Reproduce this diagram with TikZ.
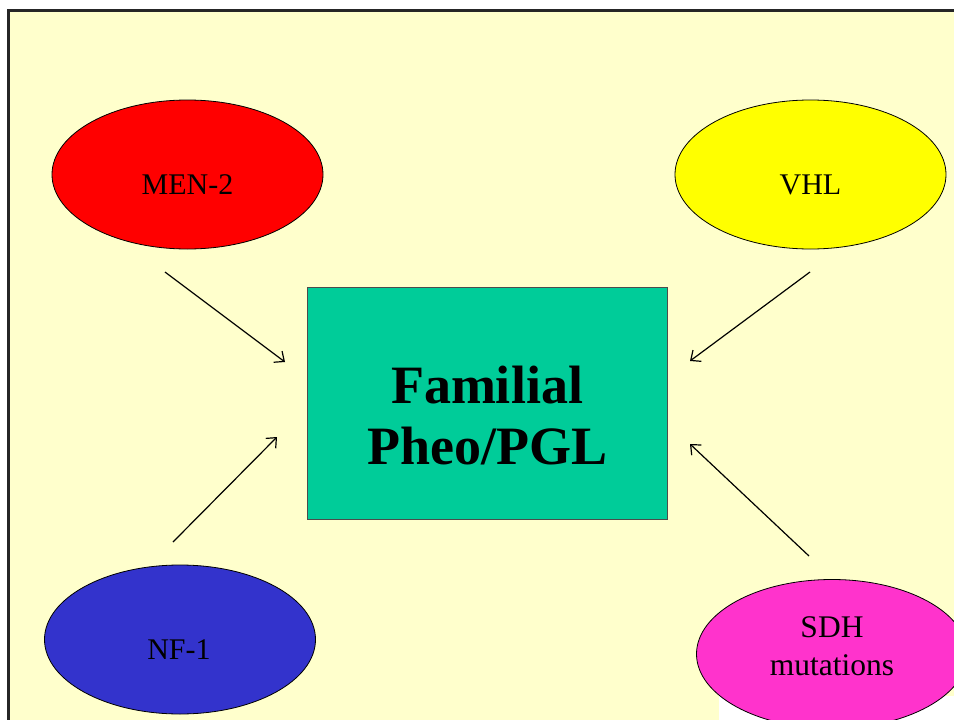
\documentclass[tikz,border=0pt]{standalone}
\usepackage{fontspec}
\setmainfont{Liberation Serif}
\usetikzlibrary{shapes.geometric,arrows.meta}
\definecolor{slidebg}{HTML}{FFFFCC}
\definecolor{menred}{HTML}{FF0000}
\definecolor{vhlyellow}{HTML}{FFFF00}
\definecolor{nfblue}{HTML}{3333CC}
\definecolor{sdhpink}{HTML}{FF33CC}
\definecolor{famgreen}{HTML}{00CC99}
\begin{document}
\begin{tikzpicture}[x=1pt,y=-1pt,
  blob/.style={ellipse,draw=black,line width=0.8pt,minimum width=271pt,minimum height=149pt,inner sep=0pt},
  lbl/.style={font=\fontsize{30}{38}\selectfont,align=center,inner sep=0pt},
  link/.style={line width=1.2pt,-{Straight Barb[length=8pt,width=14pt]}}]
\useasboundingbox (0,0) rectangle (954,720);
% slide background and frame
\fill[white] (0,0) rectangle (954,720);
\fill[slidebg] (8,10.5) rectangle (954,720);
\fill[white] (719,696) rectangle (954,720);
\draw[line width=3pt,black!85] (8,720) -- (8,10.5) -- (954,10.5);

% central box
\node[draw=black!70,line width=0.8pt,fill=famgreen,minimum width=360pt,minimum height=232pt,inner sep=0pt] (fam) at (487,403) {};
\node[font=\fontsize{54}{61}\selectfont\bfseries,align=center,inner sep=0pt] (famlbl) at (487,416) {Familial\\Pheo/PGL};

% syndromes
\node[blob,fill=menred] (men) at (187.5,174.5) {};
\node[lbl] (menlbl) at (187.5,185) {MEN-2};
\node[blob,fill=vhlyellow] (vhl) at (810.5,174.5) {};
\node[lbl] (vhllbl) at (810.5,185) {VHL};
\node[blob,fill=nfblue] (nf) at (180,639.5) {};
\node[lbl] (nflbl) at (179,650) {NF-1};
\node[blob,fill=sdhpink] (sdh) at (832,654) {};
\node[lbl,font=\fontsize{31.5}{38}\selectfont] (sdhlbl) at (832,646) {SDH\\mutations};

% arrows towards the central box
\coordinate (a1s) at (165,272); \coordinate (a1e) at (285,362);
\coordinate (a2s) at (810,272); \coordinate (a2e) at (690,361);
\coordinate (a3s) at (173,542); \coordinate (a3e) at (277,437);
\coordinate (a4s) at (809,556); \coordinate (a4e) at (690,444);
\draw[link] (a1s) -- (a1e);
\draw[link] (a2s) -- (a2e);
\draw[link] (a3s) -- (a3e);
\draw[link] (a4s) -- (a4e);
\end{tikzpicture}
\end{document}
